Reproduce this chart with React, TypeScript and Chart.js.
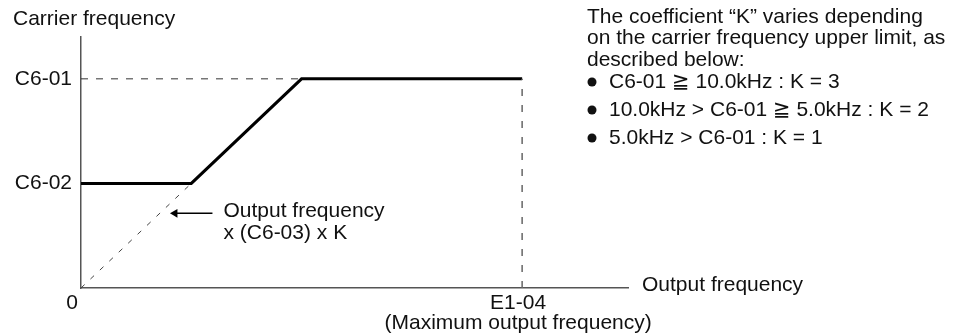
import { useEffect, useRef } from "react";
import { Chart, registerables } from "chart.js";

Chart.register(...registerables);

// ---- data (arbitrary units) ----
const X_MAX = 124;
const Y_MAX = 120;
const C6_02 = 50; // carrier frequency lower limit
const C6_01 = 100; // carrier frequency upper limit
const E1_04 = 100; // maximum output frequency
const KNEE_LOW = 25;
const KNEE_HIGH = 50;

const carrierX = [0, KNEE_LOW, KNEE_HIGH, E1_04];
const carrierY = [C6_02, C6_02, C6_01, C6_01];
const slopeX = [0, KNEE_LOW];
const slopeY = [0, C6_02];
const upperGuideX = [0, KNEE_HIGH];
const upperGuideY = [C6_01, C6_01];
const maxGuideX = [E1_04, E1_04];
const maxGuideY = [0, C6_01];
const arrowX = [21.3, 29.8];
const arrowY = [35.7, 35.7];

const yTickValues = [C6_01, C6_02];
const yTickLabels = ["C6-01", "C6-02"];
const originLabel = "0";
const xMaxLabel = ["E1-04", "(Maximum output frequency)"];
const yTitle = "Carrier frequency";
const xTitle = "Output frequency";
const slopeNote = ["Output frequency", "x (C6-03) x K"];
const noteLines = [
  "The coefficient \u201CK\u201D varies depending",
  "on the carrier frequency upper limit, as",
  "described below:",
];
const bulletLines = [
  "C6-01 \u2267 10.0kHz : K = 3",
  "10.0kHz > C6-01 \u2267 5.0kHz : K = 2",
  "5.0kHz > C6-01 : K = 1",
];

const FONT = '21px "Liberation Sans", Arial, "DejaVu Sans", sans-serif';

const pts = (xs: number[], ys: number[]) => xs.map((x, i) => ({ x, y: ys[i] }));

const textPlugin = {
  id: "diagramText",
  afterDraw(chart: any) {
    const { ctx } = chart;
    const x = chart.scales.x;
    const y = chart.scales.y;
    ctx.save();
    ctx.fillStyle = "#111";
    ctx.font = FONT;
    ctx.textBaseline = "middle";

    ctx.textAlign = "left";
    ctx.fillText(yTitle, 13, y.top - 18);

    ctx.textAlign = "right";
    yTickValues.forEach((v, i) => ctx.fillText(yTickLabels[i], x.left - 9, y.getPixelForValue(v)));

    ctx.textAlign = "center";
    ctx.fillText(originLabel, x.getPixelForValue(0) - 9, y.bottom + 15);
    const ex = x.getPixelForValue(E1_04) - 4;
    ctx.fillText(xMaxLabel[0], ex, y.bottom + 15);
    ctx.fillText(xMaxLabel[1], ex, y.bottom + 35);

    ctx.textAlign = "left";
    ctx.fillText(xTitle, x.right + 14, y.bottom - 3);

    const ax = x.getPixelForValue(arrowX[1]) + 11;
    const ay = y.getPixelForValue(arrowY[0]);
    ctx.fillText(slopeNote[0], ax, ay - 2);
    ctx.fillText(slopeNote[1], ax, ay + 20);

    const nx = 587;
    noteLines.forEach((t, i) => ctx.fillText(t, nx, 17 + i * 21.5));
    bulletLines.forEach((t, i) => {
      const by = 82 + i * 28;
      ctx.beginPath();
      ctx.arc(nx + 5, by, 4.5, 0, Math.PI * 2);
      ctx.fill();
      ctx.fillText(t, nx + 22, by);
    });
    ctx.restore();
  },
};

export default function App() {
  const ref = useRef<HTMLCanvasElement | null>(null);
  useEffect(() => {
    if (!ref.current) return;
    const chart = new Chart(ref.current, {
      type: "scatter",
      data: {
        datasets: [
          {
            data: pts(slopeX, slopeY),
            showLine: true,
            borderColor: "#444",
            borderWidth: 1,
            borderDash: [5, 8],
            pointRadius: 0,
          },
          {
            data: pts(upperGuideX, upperGuideY),
            showLine: true,
            borderColor: "#333",
            borderWidth: 1,
            borderDash: [7, 8],
            pointRadius: 0,
          },
          {
            data: pts(maxGuideX, maxGuideY),
            showLine: true,
            borderColor: "#666",
            borderWidth: 1.5,
            borderDash: [7, 9],
            pointRadius: 0,
          },
          {
            data: pts(carrierX, carrierY),
            showLine: true,
            borderColor: "#000",
            borderWidth: 3,
            pointRadius: 0,
          },
          {
            data: pts(arrowX, arrowY),
            showLine: true,
            borderColor: "#000",
            borderWidth: 1.5,
            backgroundColor: "#000",
            pointStyle: "triangle",
            rotation: 270,
            pointRadius: [5, 0],
            pointBorderWidth: 0,
          },
        ],
      },
      options: {
        animation: false,
        responsive: false,
        devicePixelRatio: 1,
        events: [],
        layout: { padding: { left: 81, top: 37, right: 339, bottom: 47 } },
        plugins: { legend: { display: false }, tooltip: { enabled: false } },
        scales: {
          x: {
            type: "linear",
            min: 0,
            max: X_MAX,
            grid: { display: false, drawTicks: false },
            ticks: { display: false },
            border: { display: true, color: "#555", width: 1.5 },
          },
          y: {
            type: "linear",
            min: 0,
            max: Y_MAX,
            grid: { display: false, drawTicks: false },
            ticks: { display: false },
            border: { display: true, color: "#555", width: 1.5 },
          },
        },
      },
      plugins: [textPlugin],
    });
    return () => chart.destroy();
  }, []);
  return (
    <div style={{ position: "absolute", left: 0, top: 0, width: 967, height: 335, background: "#fff" }}>
      <canvas ref={ref} width={967} height={335} style={{ display: "block" }} />
    </div>
  );
}
